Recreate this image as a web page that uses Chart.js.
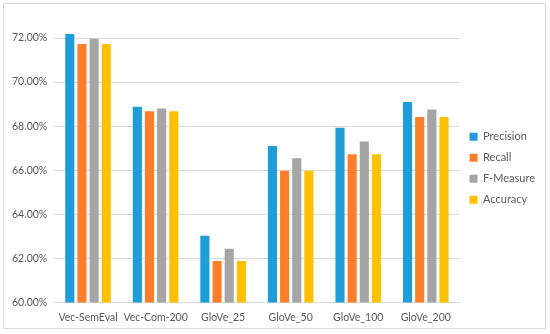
<!DOCTYPE html>
<html>
<head>
<meta charset="utf-8">
<script src="https://cdn.jsdelivr.net/npm/chart.js@4/dist/chart.umd.min.js"></script>
<style>
  body { margin: 0; background: #fff; }
  #wrap { position: relative; width: 550px; height: 334px; }
  #frame { position: absolute; left: 3px; top: 3px; width: 543px; height: 326px; border: 1px solid #d9d9d9; box-sizing: border-box; }
  canvas { position: absolute; left: 0; top: 0; }
</style>
</head>
<body>
<div id="wrap">
  <div id="frame"></div>
  <canvas id="barChart" width="550" height="334"></canvas>
</div>
<script>
var categories = ['Vec-SemEval', 'Vec-Com-200', 'GloVe_25', 'GloVe_50', 'GloVe_100', 'GloVe_200'];
var precision = [72.18, 68.88, 63.02, 67.10, 67.93, 69.10];
var recall    = [71.73, 68.68, 61.88, 65.98, 66.73, 68.41];
var fMeasure  = [71.97, 68.80, 62.43, 66.54, 67.30, 68.76];
var accuracy  = [71.73, 68.68, 61.88, 65.98, 66.73, 68.41];

var grey = '#595959';
var tickFont = { family: 'Lato', size: 10.5 };
var legendFont = { family: 'Lato', size: 11 };

var ctx = document.getElementById('barChart').getContext('2d');
var myChart = new Chart(ctx, {
    type: 'bar',
    data: {
        labels: categories,
        datasets: [
            { label: 'Precision', data: precision, backgroundColor: '#1f9dd9' },
            { label: 'Recall', data: recall, backgroundColor: '#fe7f2a' },
            { label: 'F-Measure', data: fMeasure, backgroundColor: '#a5a5a5' },
            { label: 'Accuracy', data: accuracy, backgroundColor: '#ffc000' }
        ]
    },
    options: {
        responsive: false,
        animation: false,
        categoryPercentage: 0.72,
        barPercentage: 0.75,
        layout: { padding: { top: 16, left: 5, right: 5, bottom: 1 } },
        plugins: {
            legend: {
                position: 'right',
                align: 'start',
                title: { display: true, text: ' ', font: legendFont, padding: { top: 0, bottom: 92 } },
                labels: {
                    boxWidth: 8,
                    boxHeight: 8,
                    padding: 10,
                    color: grey,
                    font: legendFont
                }
            },
            tooltip: { enabled: false }
        },
        scales: {
            x: {
                grid: { display: false, drawTicks: false },
                border: { display: true, color: '#d9d9d9' },
                ticks: { color: grey, font: tickFont, padding: 9, maxRotation: 0, autoSkip: false }
            },
            y: {
                min: 60,
                max: 73,
                grid: { color: '#d9d9d9', drawTicks: false },
                border: { display: false },
                ticks: {
                    stepSize: 2,
                    color: grey,
                    font: tickFont,
                    padding: 7,
                    callback: function (v) { return v.toFixed(2) + '%'; }
                },
                afterBuildTicks: function (scale) {
                    scale.ticks = scale.ticks.filter(function (t) { return t.value <= 72; });
                }
            }
        }
    }
});
</script>
</body>
</html>
